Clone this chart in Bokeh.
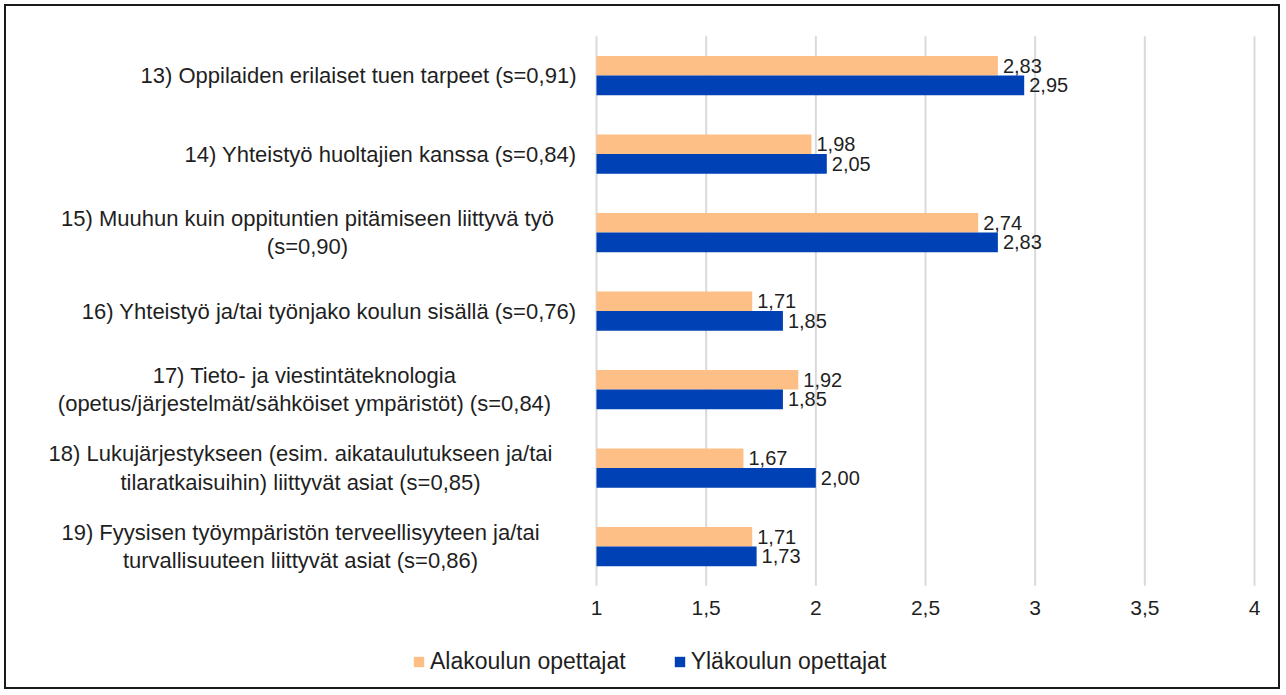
from bokeh.plotting import figure
from bokeh.models import ColumnDataSource, Range1d, Legend, LegendItem
from bokeh.core.properties import value
from bokeh.embed import file_html
from bokeh.resources import INLINE

categories = [
    "13) Oppilaiden erilaiset tuen tarpeet (s=0,91)",
    "14) Yhteistyö huoltajien kanssa (s=0,84)",
    "15) Muuhun kuin oppituntien pitämiseen liittyvä työ\n(s=0,90)",
    "16) Yhteistyö ja/tai työnjako koulun sisällä (s=0,76)",
    "17) Tieto- ja viestintäteknologia\n(opetus/järjestelmät/sähköiset ympäristöt) (s=0,84)",
    "18) Lukujärjestykseen (esim. aikataulutukseen ja/tai\ntilaratkaisuihin) liittyvät asiat (s=0,85)",
    "19) Fyysisen työympäristön terveellisyyteen ja/tai\nturvallisuuteen liittyvät asiat (s=0,86)",
]
alakoulu = [2.83, 1.98, 2.74, 1.71, 1.92, 1.67, 1.71]
ylakoulu = [2.95, 2.05, 2.83, 1.85, 1.85, 2.00, 1.73]
series_names = ["Alakoulun opettajat", "Yläkoulun opettajat"]
x_ticks = [1, 1.5, 2, 2.5, 3, 3.5, 4]
x_tick_labels = ["1", "1,5", "2", "2,5", "3", "3,5", "4"]

ORANGE = "#FDBF86"
BLUE = "#0041B5"
FONT = value("Liberation Sans")
TXT = "#1f1f1f"

n = len(categories)
idx = list(range(n))
fmt = lambda v: f"{v:.2f}".replace(".", ",")

# layout (canvas pixels)
W, H = 1276, 685
X0_PX, X1_PX = 590, 1248          # where first / last tick sit
Y0_PX, BAND = 69, 78.5            # first category centre, band height
ppu = (X1_PX - X0_PX) / (x_ticks[-1] - x_ticks[0])
x_start = x_ticks[0] - X0_PX / ppu
x_end = x_ticks[-1] + (W - X1_PX) / ppu
y_top = -Y0_PX / BAND
y_bot = (H - Y0_PX) / BAND

p = figure(width=W, height=H, output_backend="svg", toolbar_location=None,
           x_range=Range1d(x_start, x_end), y_range=Range1d(y_bot, y_top),
           min_border=0, min_border_left=0, min_border_right=0,
           min_border_top=0, min_border_bottom=0)
p.styles = {"border": "2px solid #1a1a1a", "margin": "4px 0 0 4px"}
p.outline_line_color = None
p.xaxis.visible = False
p.yaxis.visible = False
p.grid.visible = False
p.background_fill_color = "white"
p.border_fill_color = "white"

# vertical gridlines
p.segment(x0=x_ticks, x1=x_ticks, y0=[-0.5] * len(x_ticks),
          y1=[n - 0.5] * len(x_ticks), line_color="#d9d9d9", line_width=2)

# tick labels
p.text(x=x_ticks, y=[n - 0.5] * len(x_ticks), text=x_tick_labels, y_offset=22,
       text_align="center", text_baseline="middle", text_font=FONT,
       text_font_size="21px", text_color=TXT)

src_a = ColumnDataSource(dict(y=[i - 0.125 for i in idx], x=alakoulu,
                              lab=[fmt(v) for v in alakoulu]))
src_y = ColumnDataSource(dict(y=[i + 0.125 for i in idx], x=ylakoulu,
                              lab=[fmt(v) for v in ylakoulu]))

r_a = p.hbar(y="y", right="x", left=x_ticks[0], height=0.25, source=src_a,
             fill_color=ORANGE, line_color=None)
r_y = p.hbar(y="y", right="x", left=x_ticks[0], height=0.25, source=src_y,
             fill_color=BLUE, line_color=None)

for src in (src_a, src_y):
    p.text(x="x", y="y", text="lab", source=src, x_offset=5,
           text_baseline="middle", text_font=FONT, text_font_size="20px",
           text_color=TXT)

# category labels
centers = {2: 307, 4: 304, 5: 300, 6: 300}   # picture px of block centre
single = [i for i, c in enumerate(categories) if "\n" not in c]
multi = [i for i, c in enumerate(categories) if "\n" in c]
p.text(x=[x_ticks[0]] * len(single), y=single,
       text=[categories[i] for i in single], x_offset=-20,
       text_align="right", text_baseline="middle", text_font=FONT,
       text_font_size="22px", text_color=TXT)
for i in multi:
    p.text(x=[x_ticks[0]], y=[i], text=[categories[i]],
           x_offset=centers[i] - 596, text_align="center",
           text_baseline="middle", text_font=FONT, text_font_size="22px",
           text_color=TXT, text_line_height=1.13)

legend = Legend(items=[LegendItem(label=series_names[0], renderers=[r_a]),
                       LegendItem(label=series_names[1], renderers=[r_y])],
                orientation="horizontal", location=(406, 16),
                padding=0, margin=0, spacing=47, label_standoff=5,
                glyph_width=13, glyph_height=13,
                label_text_font="Liberation Sans", label_text_font_size="23px",
                label_text_color=TXT, border_line_color=None,
                background_fill_alpha=0)
p.add_layout(legend)

open("out.html", "w").write(file_html(p, INLINE))
